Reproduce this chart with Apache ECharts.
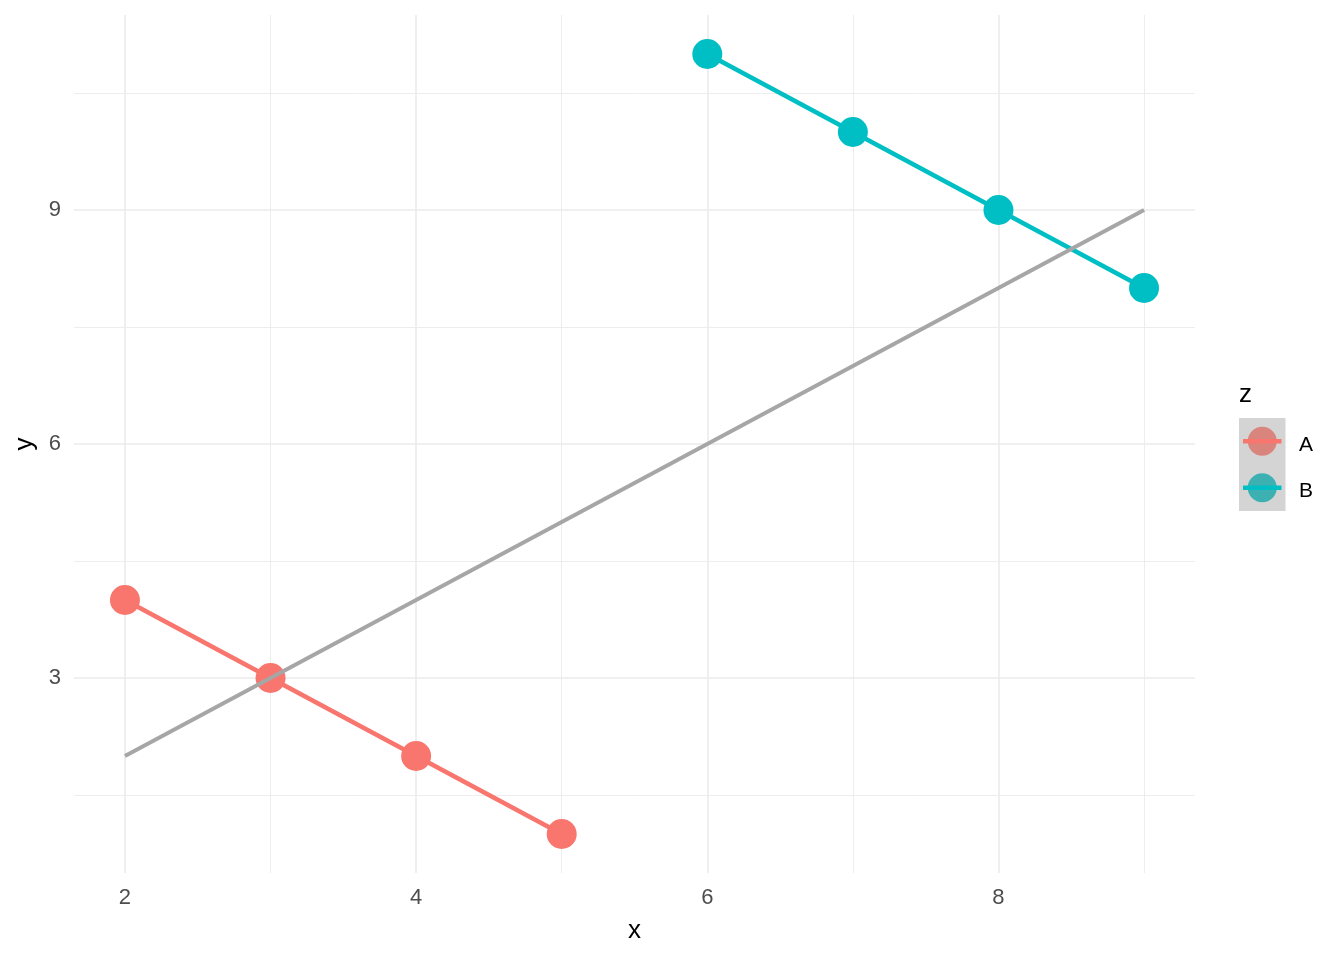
<!DOCTYPE html>
<html>
<head>
<meta charset="utf-8">
<script src="https://cdn.jsdelivr.net/npm/echarts@6/dist/echarts.min.js"></script>
<style>html,body{margin:0;padding:0;background:#fff;}#chart{width:1344px;height:960px;}</style>
</head>
<body>
<div id="chart"></div>
<script>
const xA = [2, 3, 4, 5];
const yA = [4, 3, 2, 1];
const xB = [6, 7, 8, 9];
const yB = [11, 10, 9, 8];
const refX = [2, 9];
const refY = [2, 9];
const xTicks = [2, 4, 6, 8];
const yTicks = [3, 6, 9];
const xMinor = [3, 5, 7, 9];
const yMinor = [1.5, 4.5, 7.5, 10.5];
const groups = ['A', 'B'];

const colA = '#F8766D', colB = '#00BFC4';
const pairs = (xs, ys) => xs.map((x, i) => [x, ys[i]]);
const FONT = '"Liberation Sans", Arial, sans-serif';
const TICK_FS = 22;

const gridLines = [];
xTicks.forEach(v => gridLines.push({xAxis: v, lineStyle: {color: '#EBEBEB', width: 1.6, type: 'solid'}}));
xMinor.forEach(v => gridLines.push({xAxis: v, lineStyle: {color: '#EBEBEB', width: 0.9, type: 'solid'}}));
yTicks.forEach(v => gridLines.push({yAxis: v, lineStyle: {color: '#EBEBEB', width: 1.6, type: 'solid'}}));
yMinor.forEach(v => gridLines.push({yAxis: v, lineStyle: {color: '#EBEBEB', width: 0.9, type: 'solid'}}));

const tickRich = {t: {fontSize: TICK_FS, fontFamily: FONT, color: '#4D4D4D', lineHeight: TICK_FS}};
const chart = echarts.init(document.getElementById('chart'), null, {renderer: 'canvas'});
const legendX = 1239, legendY = 418, key = 46.5;
chart.setOption({
  animation: false,
  backgroundColor: '#ffffff',
  grid: {left: 74, right: 149, top: 15, bottom: 87},
  xAxis: {
    type: 'value', min: 1.65, max: 9.35,
    axisLine: {show: false}, axisTick: {show: false, customValues: xTicks},
    splitLine: {show: false},
    axisLabel: {customValues: xTicks, color: '#4D4D4D', fontSize: TICK_FS, fontFamily: FONT, margin: 14,
      formatter: v => '{t|' + v + '}', rich: tickRich},
    name: 'x', nameLocation: 'middle', nameGap: 45,
    nameTextStyle: {color: '#000', fontSize: 26, fontFamily: FONT}
  },
  yAxis: {
    type: 'value', min: 0.5, max: 11.5,
    axisLine: {show: false}, axisTick: {show: false, customValues: yTicks},
    splitLine: {show: false},
    axisLabel: {customValues: yTicks, color: '#4D4D4D', fontSize: TICK_FS, fontFamily: FONT, margin: 13,
      formatter: v => '{t|' + v + '}', rich: tickRich},
    name: 'y', nameLocation: 'middle', nameGap: 32,
    nameTextStyle: {color: '#000', fontSize: 26, fontFamily: FONT}
  },
  series: [
    {type: 'line', data: [], z: 0, silent: true,
     markLine: {silent: true, z: 0, symbol: 'none', label: {show: false}, data: gridLines, animation: false}},
    {type: 'line', name: groups[0], data: pairs(xA, yA), showSymbol: false, z: 2,
     lineStyle: {color: colA, width: 4.6}, itemStyle: {color: colA}},
    {type: 'line', name: groups[1], data: pairs(xB, yB), showSymbol: false, z: 2,
     lineStyle: {color: colB, width: 4.6}, itemStyle: {color: colB}},
    {type: 'scatter', data: pairs(xA, yA), symbolSize: 30, z: 3, itemStyle: {color: colA, opacity: 1}},
    {type: 'scatter', data: pairs(xB, yB), symbolSize: 30, z: 3, itemStyle: {color: colB, opacity: 1}},
    {type: 'line', data: pairs(refX, refY), showSymbol: false, z: 4,
     lineStyle: {color: '#A6A6A6', width: 4}}
  ],
  graphic: [
    {type: 'text', x: 1239, y: 395, style: {text: 'z', fontSize: 26, fontFamily: FONT, fill: '#000', verticalAlign: 'middle'}},
    {type: 'rect', shape: {x: legendX, y: legendY, width: key, height: key * 2}, style: {fill: '#D4D4D4'}},
    {type: 'circle', shape: {cx: legendX + key / 2, cy: legendY + key / 2, r: 14.5}, style: {fill: '#D9857E'}},
    {type: 'rect', shape: {x: legendX + 4, y: legendY + key / 2 - 2.3, width: key - 8, height: 4.6}, style: {fill: colA}},
    {type: 'circle', shape: {cx: legendX + key / 2, cy: legendY + key * 1.5, r: 14.5}, style: {fill: '#3DB0B2'}},
    {type: 'rect', shape: {x: legendX + 4, y: legendY + key * 1.5 - 2.3, width: key - 8, height: 4.6}, style: {fill: colB}},
    {type: 'text', x: 1299, y: 445, style: {text: groups[0], fontSize: 21, fontFamily: FONT, fill: '#000', verticalAlign: 'middle'}},
    {type: 'text', x: 1299, y: 491, style: {text: groups[1], fontSize: 21, fontFamily: FONT, fill: '#000', verticalAlign: 'middle'}}
  ]
});
</script>
</body>
</html>
